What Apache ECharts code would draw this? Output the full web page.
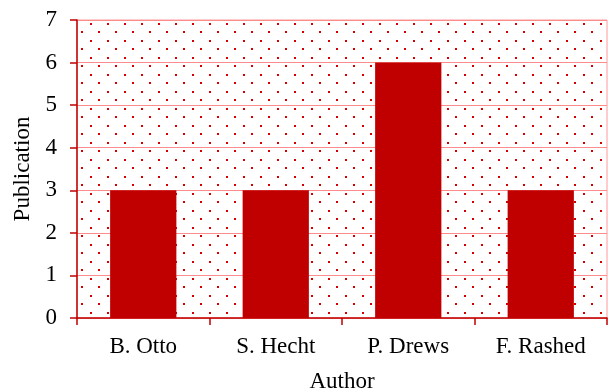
<!DOCTYPE html>
<html>
<head>
<meta charset="utf-8">
<script src="https://cdn.jsdelivr.net/npm/echarts@6/dist/echarts.min.js"></script>
<style>
  html, body { margin: 0; padding: 0; background: #fff; }
  #chart { width: 609px; height: 392px; }
</style>
</head>
<body>
<div id="chart"></div>
<script>
const authors = ['B. Otto', 'S. Hecht', 'P. Drews', 'F. Rashed'];
const publications = [3, 3, 6, 3];
const yTicks = [0, 1, 2, 3, 4, 5, 6, 7];

// Dotted fill for the plot background: staggered red dots
function dotPattern() {
  const c = document.createElement('canvas');
  c.width = 17; c.height = 17;
  const g = c.getContext('2d');
  g.fillStyle = '#fff';
  g.fillRect(0, 0, 17, 17);
  g.fillStyle = '#d40000';
  g.fillRect(5, 6, 2, 2);
  g.fillRect(13, 14, 2, 2);
  return c;
}

const chart = echarts.init(document.getElementById('chart'), null, { renderer: 'canvas' });
const font = '"Liberation Serif", "Times New Roman", serif';

chart.setOption({
  animation: false,
  textStyle: { fontFamily: font },
  grid: {
    left: 77, right: 2, top: 20, bottom: 74,
    outerBoundsMode: 'none',
    containLabel: false,
    show: true,
    backgroundColor: { image: dotPattern(), repeat: 'repeat' },
    borderColor: '#ff9a9a',
    borderWidth: 1
  },
  xAxis: {
    type: 'category',
    data: authors,
    name: 'Author',
    nameLocation: 'middle',
    nameGap: 52,
    nameTextStyle: { fontSize: 23, color: '#000', fontFamily: font },
    axisLine: { lineStyle: { color: '#c00000', width: 1.5 } },
    axisTick: { show: true, length: 7, lineStyle: { color: '#c00000', width: 1.5 } },
    axisLabel: { fontSize: 23, color: '#000', margin: 17, fontFamily: font },
    splitLine: { show: false }
  },
  yAxis: {
    type: 'value',
    min: yTicks[0],
    max: yTicks[yTicks.length - 1],
    interval: 1,
    name: 'Publication',
    nameLocation: 'middle',
    nameGap: 41,
    nameTextStyle: { fontSize: 23, color: '#000', fontFamily: font },
    axisLine: { show: true, lineStyle: { color: '#c00000', width: 1.5 } },
    axisTick: { show: true, length: 7, lineStyle: { color: '#c00000', width: 1.5 } },
    axisLabel: { fontSize: 23, color: '#000', margin: 20, fontFamily: font },
    splitLine: { show: true, lineStyle: { color: '#ff8c8c', width: 1 } }
  },
  series: [{
    type: 'bar',
    data: publications,
    barWidth: '50%',
    itemStyle: { color: '#c00000' }
  }]
});
</script>
</body>
</html>
